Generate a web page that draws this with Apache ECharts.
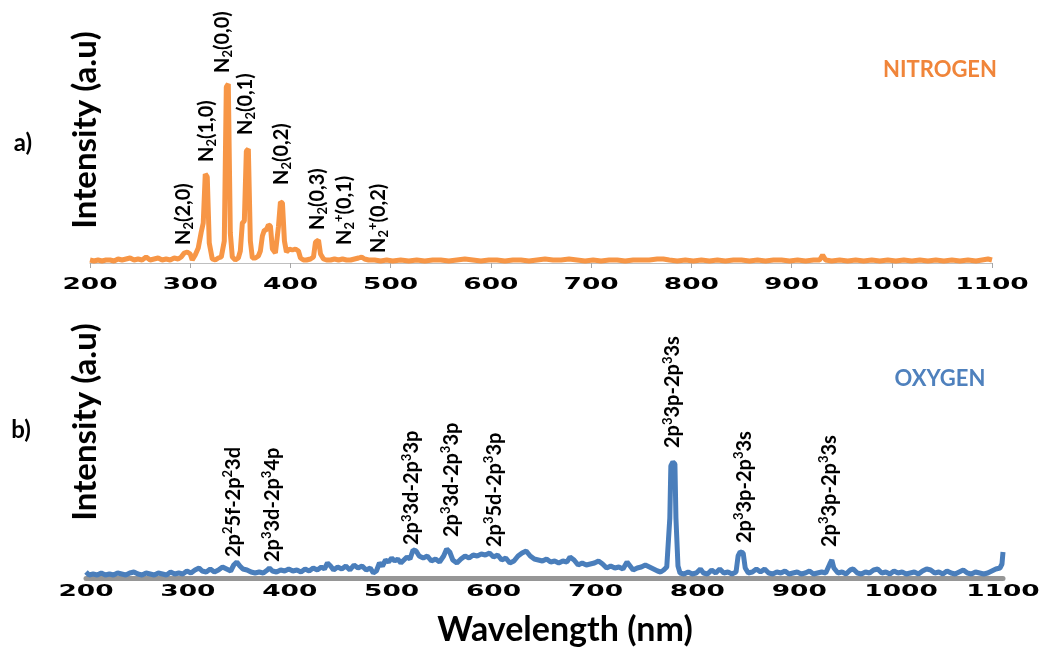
<!DOCTYPE html>
<html><head><meta charset="utf-8">
<script src="https://cdn.jsdelivr.net/npm/echarts@6/dist/echarts.min.js"></script>
<style>html,body{margin:0;padding:0;background:#fff}#c{width:1047px;height:655px}</style>
</head><body><div id="c"></div>
<script>
// ---------- DATA ----------
const xTicks = [200, 300, 400, 500, 600, 700, 800, 900, 1000, 1100];

const n2Wavelength = [200,204,208,212,216,220,224,228,232,236,240,244,248,252,256,260,264,268,272,276,280,284,288,291,294,297,300,302,305,308,311,313,315,317,319,322,325,328,331,334,336,338,340,342,345,348,350,352,354,356,358,360,362,365,368,370,372,374,376,378,380,382,385,388,390,392,394,396,399,402,405,408,410,413,416,420,423,425,428,430,433,436,440,444,448,452,456,460,464,468,471,474,478,484,490,496,502,510,518,526,534,542,550,558,566,574,582,590,598,606,614,622,630,638,646,654,662,670,678,686,694,702,710,718,726,734,742,750,758,766,772,778,786,794,802,810,818,826,834,842,850,858,866,874,882,890,898,906,914,922,928,931,934,940,948,956,964,972,980,988,996,1004,1012,1020,1028,1036,1044,1052,1060,1068,1076,1084,1090,1096,1100];
const n2Intensity = [3,2,3,2,3,3,2,4,3,4,5,3,4,3,6,3,4,5,3,4,3,5,4,6,10,11,9,3,8,15,31,40,89,86,20,4,3,5,6,22,176,179,30,6,3,5,12,40,42,112,114,22,5,5,7,12,27,33,33,38,37,14,10,36,61,60,22,11,14,13,14,12,5,3,3,4,6,21,23,9,4,3,3,4,3,4,3,3,4,5,6,4,3,3,2,3,2,3,2,3,2,3,3,2,3,4,3,2,3,3,2,3,3,2,3,4,3,3,4,3,2,3,2,3,3,2,3,3,3,4,4,3,2,3,2,3,2,3,2,3,3,2,3,2,3,3,2,3,2,3,3,8,3,2,3,2,3,2,3,2,3,2,3,2,3,2,3,2,3,2,3,2,3,4,3];

const o2Wavelength = [200,203,207,211,215,219,223,227,231,235,239,243,247,251,255,259,263,267,271,275,279,283,287,291,295,299,303,307,311,314,318,322,326,330,334,338,342,345,348,351,354,358,362,366,370,374,378,380,383,387,391,395,399,403,407,411,415,419,423,427,431,434,437,440,443,447,451,455,459,463,467,471,475,479,482,485,488,491,494,497,500,503,506,509,512,515,518,521,524,527,531,535,539,543,547,551,554,557,560,564,568,572,576,580,584,588,592,596,600,604,608,612,616,620,624,628,632,636,640,644,648,652,656,660,664,668,672,675,679,683,687,691,695,699,703,707,711,715,719,723,727,731,734,737,741,745,749,753,757,761,764,767,770,773,774,776,778,779,781,783,787,791,795,799,803,806,810,814,818,822,826,830,834,838,840,842,845,847,850,854,858,862,866,870,874,878,882,886,890,894,898,902,906,910,914,918,922,926,930,932,934,938,942,946,950,953,957,961,965,969,973,977,981,985,989,993,997,1001,1005,1009,1013,1017,1021,1025,1029,1033,1037,1041,1045,1049,1053,1057,1061,1065,1069,1073,1077,1081,1085,1089,1093,1097,1099,1100];
const o2Intensity = [6,3,4,3,5,3,4,3,5,4,3,5,6,4,3,5,4,3,5,4,3,6,4,5,4,7,5,8,10,7,6,9,6,8,11,9,7,13,16,12,9,8,6,5,6,5,8,10,7,6,8,7,9,7,8,6,9,7,10,8,11,9,15,12,8,11,9,12,8,13,10,12,8,10,5,7,15,12,18,16,20,17,19,15,18,21,19,28,27,22,20,22,17,19,16,22,29,26,18,15,19,22,20,23,22,24,23,25,21,23,18,20,15,17,22,25,27,22,19,18,17,19,16,17,15,17,16,21,18,13,15,13,14,15,17,14,10,12,10,11,9,16,12,8,10,11,13,11,9,7,6,8,11,60,112,116,114,60,12,5,4,6,4,5,9,5,4,8,5,9,5,6,4,6,22,26,25,10,5,6,9,6,9,5,4,6,5,7,4,5,6,4,5,7,4,5,6,5,14,18,10,5,6,4,8,9,5,4,6,5,8,9,5,6,4,7,5,6,4,5,6,4,7,9,8,5,6,4,7,5,4,6,8,5,4,6,5,4,5,7,9,10,14,26];

const n2LabelText = ['N_2(2,0)', 'N_2(1,0)', 'N_2(0,0)', 'N_2(0,1)', 'N_2(0,2)', 'N_2(0,3)', 'N_2^+(0,1)', 'N_2^+(0,2)'];
const n2LabelWl   = [293, 316, 332, 355, 391, 427, 454, 488];
const n2LabelAt   = [18, 101, 190, 128, 78, 33, 18, 10];

const oLabelText = ['2p^25f-2p^23d', '2p^33d-2p^34p', '2p^33d-2p^33p', '2p^33d-2p^33p', '2p^35d-2p^33p', '2p^33p-2p^33s', '2p^33p-2p^33s', '2p^33p-2p^33s'];
const oLabelWl   = [345, 383, 520, 559, 601, 776, 846, 930];
const oLabelAt   = [21, 16, 33, 41, 31, 130, 35, 31];

// ---------- CHART ----------
const chart = echarts.init(document.getElementById('c'));
const zip = (a, b) => a.map((v, i) => [v, b[i]]);

chart.setOption({
  animation: false,
  backgroundColor: '#fff',
  grid: [
    { left: 90, right: 55, top: 63, height: 200 },
    { left: 86, right: 44, top: 438, height: 140 }
  ],
  xAxis: [
    { gridIndex: 0, type: 'value', min: 200, max: 1100, interval: 100,
      axisLine: { show: true, lineStyle: { color: '#bfbfbf', width: 1 } },
      axisTick: { show: true, length: 5, lineStyle: { color: '#a6a6a6' } },
      axisLabel: { show: false }, splitLine: { show: false } },
    { gridIndex: 1, type: 'value', min: 200, max: 1100, interval: 100,
      axisLine: { show: true, lineStyle: { color: '#969696', width: 5 } },
      axisTick: { show: false },
      axisLabel: { show: false }, splitLine: { show: false } }
  ],
  yAxis: [
    { gridIndex: 0, type: 'value', min: 0, max: 200, show: false },
    { gridIndex: 1, type: 'value', min: 0, max: 140, show: false }
  ],
  series: [
    { type: 'line', xAxisIndex: 0, yAxisIndex: 0, data: zip(n2Wavelength, n2Intensity),
      showSymbol: false, lineStyle: { color: '#F79646', width: 5 }, itemStyle: { color: '#F79646' } },
    { type: 'line', xAxisIndex: 1, yAxisIndex: 1, data: zip(o2Wavelength, o2Intensity),
      showSymbol: false, lineStyle: { color: '#4A7EBB', width: 5 }, itemStyle: { color: '#4A7EBB' } }
  ]
});

// ---------- TEXT OVERLAYS ----------
function richStr(s) {
  let out = '', buf = '';
  for (let i = 0; i < s.length; i++) {
    const c = s[i];
    if (c === '_' || c === '^') {
      if (buf) { out += '{m|' + buf + '}'; buf = ''; }
      out += '{' + (c === '_' ? 'sub' : 'sup') + '|' + s[i + 1] + '}';
      i++;
    } else buf += c;
  }
  if (buf) out += '{m|' + buf + '}';
  return out;
}
const FONT = 'Lato, "Open Sans", sans-serif';
const richStyles = {
  m:   { fontFamily: FONT, fontWeight: 'bold', fontSize: 20, lineHeight: 24, verticalAlign: 'middle', fill: '#000' },
  sub: { fontFamily: FONT, fontWeight: 'bold', fontSize: 13, lineHeight: 12, verticalAlign: 'bottom', fill: '#000' },
  sup: { fontFamily: FONT, fontWeight: 'bold', fontSize: 13, lineHeight: 12, verticalAlign: 'top', fill: '#000' }
};

const g = [];
function peakLabels(texts, wls, ats, gi) {
  texts.forEach((t, i) => {
    const p = chart.convertToPixel({ gridIndex: gi }, [wls[i], ats[i]]);
    g.push({ type: 'text', x: p[0], y: p[1], rotation: Math.PI / 2, z: 10,
      style: { text: richStr(t), rich: richStyles, align: 'left', verticalAlign: 'middle' } });
  });
}
peakLabels(n2LabelText, n2LabelWl, n2LabelAt, 0);
peakLabels(oLabelText, oLabelWl, oLabelAt, 1);

function tickLabels(gi, dy) {
  xTicks.forEach(v => {
    const p = chart.convertToPixel({ gridIndex: gi }, [v, 0]);
    g.push({ type: 'text', x: p[0], y: p[1] + dy, scaleX: 1.65, z: 10,
      style: { text: String(v), font: 'bold 16px "DejaVu Sans"', fill: '#000', align: 'center', verticalAlign: 'middle' } });
  });
}
tickLabels(0, 22);
tickLabels(1, 14);

function txt(text, x, y, size, color, rot) {
  g.push({ type: 'text', x: x, y: y, rotation: rot || 0, z: 10,
    style: { text: text, font: 'bold ' + size + 'px ' + FONT, fill: color, align: 'center', verticalAlign: 'middle' } });
}
txt('Intensity (a.u)', 85, 130, 33, '#000', Math.PI / 2);
txt('Intensity (a.u)', 85, 422, 33, '#000', Math.PI / 2);
txt('Wavelength (nm)', 565, 630, 34, '#000');
txt('a)', 23, 143, 24, '#000');
txt('b)', 21, 430, 24, '#000');
txt('NITROGEN', 940, 70, 22, '#F0853A');
txt('OXYGEN', 940, 379, 22, '#4F81BD');

chart.setOption({ graphic: g });
</script>
</body></html>
